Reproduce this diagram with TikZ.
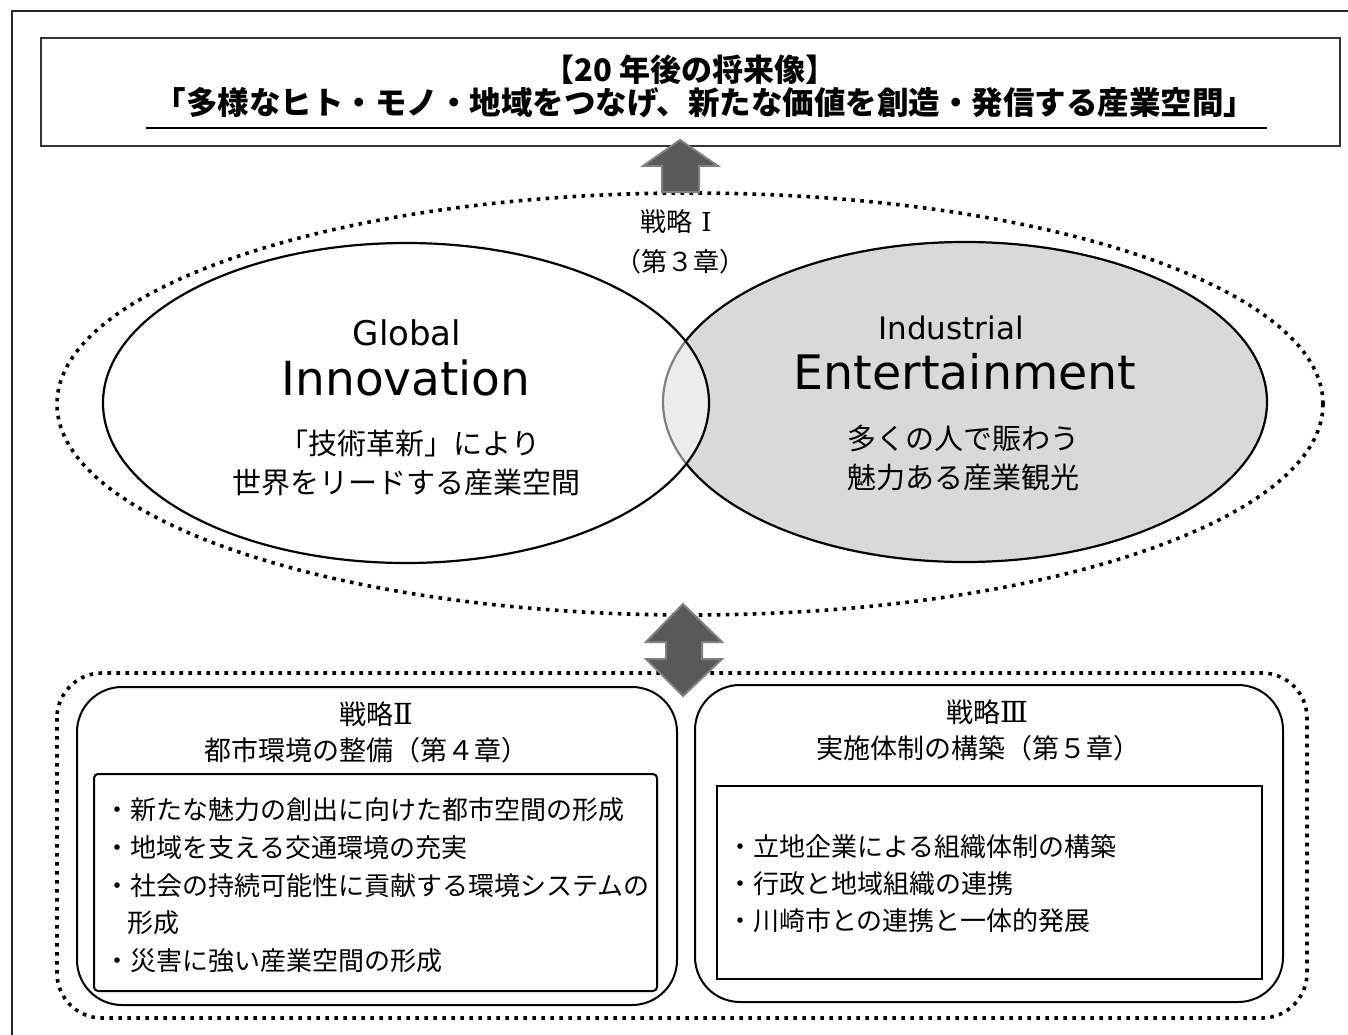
\documentclass[tikz,border=0pt]{standalone}
\usepackage{fontspec}
\setmainfont{Noto Sans CJK JP}
\newfontfamily\latfont{DejaVu Sans}
\newfontfamily\romfont{DejaVu Serif}
\definecolor{arrowfill}{HTML}{595959}
\definecolor{arrowedge}{HTML}{808080}
\definecolor{ellgrey}{HTML}{D9D9D9}
\begin{document}
\begin{tikzpicture}[x=1pt,y=-1pt,
  dots/.style={line width=3.6pt, dash pattern=on 3.6pt off 5.4pt},
  boxline/.style={line width=2pt, draw=black},
  ellline/.style={line width=2.2pt, draw=black},
  arrowshape/.style={fill=arrowfill, draw=arrowedge, line width=2pt, line join=miter},
  txt/.style={inner sep=0pt, font=\fontsize{26}{30}\selectfont},
  stitle/.style={inner sep=0pt, font=\fontsize{27}{30}\selectfont},
  jtxt/.style={inner sep=0pt, font=\fontsize{29}{32}\selectfont},
  item/.style={inner sep=0pt, anchor=west, font=\fontsize{26}{30}\selectfont},
]
\useasboundingbox (0,0) rectangle (1348,1035);
\fill[white] (0,0) rectangle (1348,1035);
% outer frame
\draw[line width=1.5pt, draw=black!85] (12,1045) -- (12,11) -- (1360,11);
% top box
\draw[line width=2pt, draw=black!80] (41,38) rectangle (1340,146);
\node[inner sep=0pt, font=\fontsize{31}{34}\selectfont\bfseries] (title1) at (690,70) {【20 年後の将来像】};
\node[inner sep=0pt, font=\fontsize{31.5}{34}\selectfont\bfseries] (title2) at (705,103) {「多様なヒト・モノ・地域をつなげ、新たな価値を創造・発信する産業空間」};
\coordinate (ulA) at (146,128);
\coordinate (ulB) at (1267,128);
\draw[line width=2pt] (ulA) -- (ulB);
% strategy I
\draw[dots] (690,404) ellipse [x radius=633pt, y radius=211pt];
\draw[ellline, fill=ellgrey] (965,402) ellipse [x radius=302pt, y radius=160pt];
\draw[ellline, fill=white, fill opacity=0.5] (406,403) ellipse [x radius=303pt, y radius=160pt];
\node[txt] (s1a) at (676,222) {戦略\hspace{9pt}{\romfont Ⅰ}};
\node[txt] (s1b) at (680,262) {（第３章）};
\node[inner sep=0pt, font=\latfont\fontsize{34}{36}\selectfont] (global) at (407,333) {Global};
\node[inner sep=0pt, font=\latfont\fontsize{47}{50}\selectfont] (innov) at (406,378) {Innovation};
\node[jtxt] (j1) at (410,443) {「技術革新」により};
\node[jtxt] (j2) at (406,483) {世界をリードする産業空間};
\node[inner sep=0pt, font=\latfont\fontsize{31}{34}\selectfont] (indus) at (951,328) {Industrial};
\node[inner sep=0pt, font=\latfont\fontsize{47.5}{50}\selectfont] (enter) at (965,372) {Entertainment};
\node[jtxt] (e1) at (963,438) {多くの人で賑わう};
\node[jtxt] (e2) at (963,477) {魅力ある産業観光};
% bottom group
\draw[dots, rounded corners=45pt] (57,673) rectangle (1307,1018);
\draw[boxline, rounded corners=45pt] (77,687) rectangle (677,1005);
\draw[boxline, rounded corners=45pt] (695,685) rectangle (1283,1002);
\draw[boxline, rounded corners=4pt] (94,774) rectangle (657,991);
\draw[boxline] (717,786) rectangle (1262,979);
\node[stitle] (s2a) at (376,714) {戦略{\romfont\fontsize{29}{30}\selectfont Ⅱ}};
\node[stitle] (s2b) at (366,750) {都市環境の整備（第４章）};
\node[stitle] (s3a) at (987,712) {戦略{\romfont\fontsize{29}{30}\selectfont Ⅲ}};
\node[stitle] (s3b) at (978,748) {実施体制の構築（第５章）};
\node[item] (i21) at (104,810) {・新たな魅力の創出に向けた都市空間の形成};
\node[item] (i22) at (104,848) {・地域を支える交通環境の充実};
\node[item] (i23) at (104,886) {・社会の持続可能性に貢献する環境システムの};
\node[item] (i24) at (127,923) {形成};
\node[item] (i25) at (104,961) {・災害に強い産業空間の形成};
\node[item] (i31) at (727,847) {・立地企業による組織体制の構築};
\node[item] (i32) at (727,884) {・行政と地域組織の連携};
\node[item] (i33) at (727,921) {・川崎市との連携と一体的発展};
% arrows
\draw[arrowshape] (680,140) -- (718,166) -- (699,166) -- (699,192) -- (662,192) -- (662,166) -- (643,166) -- cycle;
\draw[arrowshape] (683,604) -- (722,642) -- (702,642) -- (702,659) -- (722,659) -- (683,696) -- (646,659) -- (666,659) -- (666,642) -- (646,642) -- cycle;
\end{tikzpicture}
\end{document}
